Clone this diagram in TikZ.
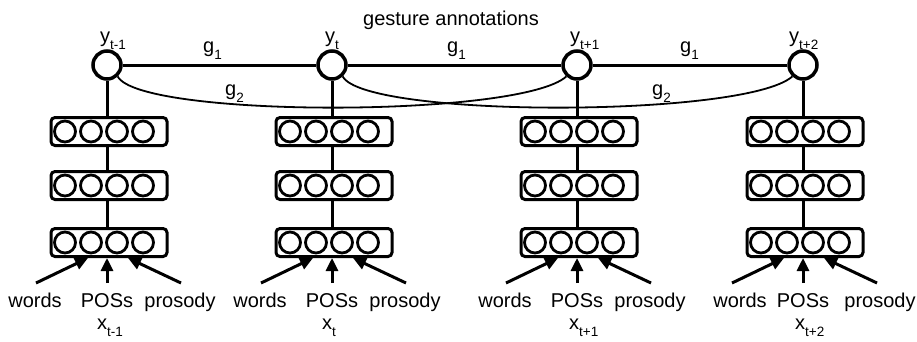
\documentclass[tikz,border=0pt]{standalone}
\usepackage{fontspec}
\setmainfont{Liberation Sans}
\usetikzlibrary{arrows.meta}

% lowered subscript in text size
\newcommand{\lowtext}[1]{\raisebox{-7pt}{\fontsize{13.5}{13.5}\selectfont #1}}

\tikzset{
  every node/.style={font=\fontsize{20}{23}\selectfont, inner sep=0pt},
  ynode/.style={circle, draw, line width=3.5pt, minimum size=28pt, fill=white},
  layer/.style={rectangle, draw, line width=3pt, rounded corners=4pt,
                minimum width=116pt, minimum height=28pt},
  unit/.style={circle, draw, line width=2.8pt, minimum size=21pt},
  link/.style={line width=3pt},
  skip/.style={line width=1.8pt},
  feed/.style={line width=3pt, -{Triangle[length=13pt,width=12pt]}},
  lbl/.style={anchor=base west},
  word/.style={anchor=base},
}

\begin{document}
\begin{tikzpicture}[x=1pt,y=-1pt]
  \useasboundingbox (0,0) rectangle (917,341);

  \node[anchor=base] (title) at (451,25) {gesture annotations};

  % output label nodes
  \foreach \i/\c/\lx/\sub in {1/107/100/t-1, 2/332/325/t, 3/577/570/t+1, 4/803/789/t+2}{
    \node[ynode] (y\i) at (\c,65) {};
    \node[lbl] (ly\i) at (\lx,42) {y\lowtext{\sub}};
  }

  % chain edges between neighbouring outputs
  \draw[link] (y1) -- (y2);
  \draw[link] (y2) -- (y3);
  \draw[link] (y3) -- (y4);

  % skip edges between outputs two steps apart
  \draw[skip] (y1.-47) .. controls (140,118) and (520,118) .. (y3.-133);
  \draw[skip] (y2.-47) .. controls (365,118) and (745,118) .. (y4.-133);

  \node[lbl] (g1a) at (203,52) {g\lowtext{1}};
  \node[lbl] (g1b) at (447,52) {g\lowtext{1}};
  \node[lbl] (g1c) at (680,52) {g\lowtext{1}};
  \node[lbl] (g2a) at (225,95) {g\lowtext{2}};
  \node[lbl] (g2b) at (652,95) {g\lowtext{2}};

  % stacked hidden layers and inputs for each time step
  \foreach \i/\c/\xl/\sub/\wo/\po in {1/107/97/t-1/-72/73, 2/332/322/t/-72/73,
                                     3/577/569/t+1/-72/73, 4/803/795/t+2/-63/77}{
    \node[layer] (a\i) at (\c+2,131.5) {};
    \node[layer] (b\i) at (\c+2,185.5) {};
    \node[layer] (c\i) at (\c+2,242.5) {};
    \foreach \L in {a,b,c}{
      \foreach \k/\dx in {1/-42,2/-16,3/10,4/36}{
        \node[unit] (\L\i u\k) at ([xshift=\dx pt]\L\i.center -| \c,0) {};
      }
    }
    \draw[link] (y\i) -- (a\i.north -| y\i);
    \draw[link] (a\i.south -| y\i) -- (b\i.north -| y\i);
    \draw[link] (b\i.south -| y\i) -- (c\i.north -| y\i);

    \node[word] (w\i) at (\c+\wo,307) {words};
    \node[word] (p\i) at (\c,307) {POSs};
    \node[word] (r\i) at (\c+\po,307) {prosody};
    \node[lbl] (x\i) at (\xl,329) {x\lowtext{\sub}};

    \coordinate (wt\i) at (\c-71,283);
    \coordinate (pt\i) at (\c,283);
    \coordinate (rt\i) at (\c+74,283);
    \draw[feed] (wt\i) -- ([xshift=-19pt]c\i.south -| y\i);
    \draw[feed] (pt\i) -- (c\i.south -| y\i);
    \draw[feed] (rt\i) -- ([xshift=21pt]c\i.south -| y\i);
  }
\end{tikzpicture}
\end{document}
